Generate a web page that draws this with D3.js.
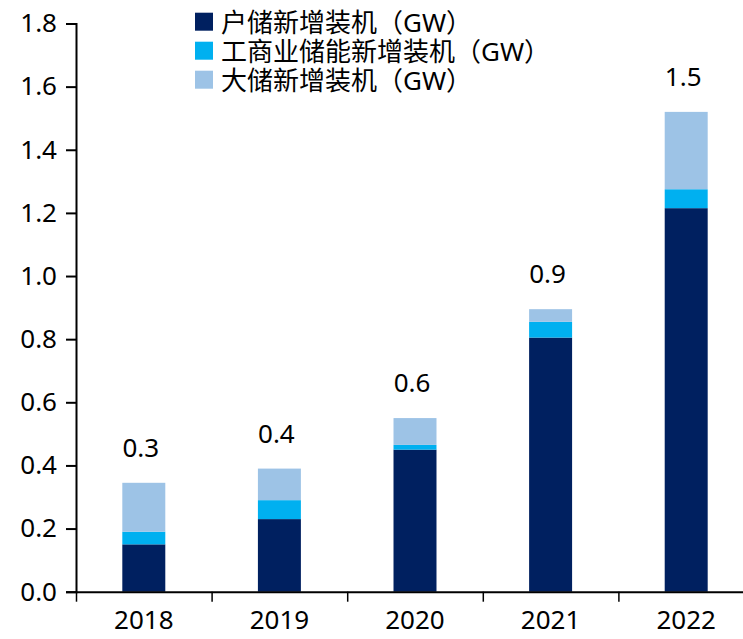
<!DOCTYPE html>
<html>
<head>
<meta charset="utf-8">
<script src="https://cdn.jsdelivr.net/npm/d3@7"></script>
<style>
  html, body { margin: 0; padding: 0; background: #fff; }
  svg text { font-family: "Noto Sans", "Noto Sans CJK SC", sans-serif; fill: #000; }
</style>
</head>
<body>
<div id="chart"></div>
<script>
const years = ['2018', '2019', '2020', '2021', '2022'];
const household = [0.15, 0.23, 0.45, 0.805, 1.215];
const commercial = [0.04, 0.06, 0.015, 0.05, 0.06];
const utility = [0.155, 0.10, 0.085, 0.04, 0.245];
const totalLabels = ['0.3', '0.4', '0.6', '0.9', '1.5'];
const seriesNames = ['户储新增装机（GW）', '工商业储能新增装机（GW）', '大储新增装机（GW）'];
const yTicks = [0, 0.2, 0.4, 0.6, 0.8, 1.0, 1.2, 1.4, 1.6, 1.8];

const colors = ['#002060', '#00b0f0', '#9dc3e6'];
const keys = ['household', 'commercial', 'utility'];

const width = 743, height = 639;
const plotLeft = 76, plotRight = 754, plotTop = 23.5, plotBottom = 591.7;

const rows = years.map((y, i) => ({
  year: y,
  household: household[i],
  commercial: commercial[i],
  utility: utility[i]
}));

const svg = d3.select('#chart').append('svg')
  .attr('width', width)
  .attr('height', height);

const x = d3.scaleBand().domain(years).range([plotLeft, plotRight]).padding(0);
const xi = d3.scaleLinear().domain([0, years.length]).range([plotLeft, plotRight]);
const y = d3.scaleLinear().domain([0, 1.8]).range([plotBottom, plotTop]);

const barW = x.bandwidth() * 0.317;
const stacked = d3.stack().keys(keys)(rows);

// Bars
svg.append('g')
  .selectAll('g')
  .data(stacked)
  .join('g')
  .attr('fill', (d, i) => colors[i])
  .selectAll('rect')
  .data(d => d)
  .join('rect')
  .attr('x', d => x(d.data.year) + (x.bandwidth() - barW) / 2)
  .attr('width', barW)
  .attr('y', d => y(d[1]))
  .attr('height', d => y(d[0]) - y(d[1]));

// Total labels
svg.append('g')
  .selectAll('text')
  .data(rows)
  .join('text')
  .attr('x', d => x(d.year) + x.bandwidth() / 2 - 3)
  .attr('y', d => y(d.household + d.commercial + d.utility) - 36)
  .attr('text-anchor', 'middle')
  .attr('dominant-baseline', 'central')
  .attr('font-size', 26)
  .text((d, i) => totalLabels[i]);

// Y axis
const yAxis = svg.append('g')
  .attr('transform', `translate(${plotLeft},0)`)
  .call(d3.axisLeft(y).tickValues(yTicks).tickFormat(d3.format('.1f')).tickSize(10).tickPadding(9));
yAxis.select('.domain').attr('stroke', '#000').attr('stroke-width', 2);
yAxis.selectAll('.tick line').attr('stroke', '#000').attr('stroke-width', 2);
yAxis.selectAll('.tick text').attr('font-size', 26).attr('font-family', null);

// X axis: boundary ticks
const xAxis = svg.append('g')
  .attr('transform', `translate(0,${plotBottom})`)
  .call(d3.axisBottom(xi).ticks(years.length).tickFormat('').tickSize(10).tickSizeOuter(0));
xAxis.select('.domain').attr('stroke', '#000').attr('stroke-width', 2);
xAxis.selectAll('.tick line').attr('stroke', '#000').attr('stroke-width', 1.5);

// X labels
const xLabels = svg.append('g')
  .attr('transform', `translate(0,${plotBottom})`)
  .call(d3.axisBottom(x).tickSize(0).tickPadding(19));
xLabels.select('.domain').remove();
xLabels.selectAll('.tick text').attr('font-size', 26).attr('font-family', null);

// Legend
const legend = svg.append('g')
  .selectAll('g')
  .data(seriesNames)
  .join('g')
  .attr('transform', (d, i) => `translate(195,${12.7 + i * 29})`);
legend.append('rect')
  .attr('width', 18)
  .attr('height', 18)
  .attr('fill', (d, i) => colors[i]);
legend.append('text')
  .attr('x', 26)
  .attr('y', 9)
  .attr('dominant-baseline', 'central')
  .attr('font-size', 26)
  .text(d => d);
</script>
</body>
</html>
